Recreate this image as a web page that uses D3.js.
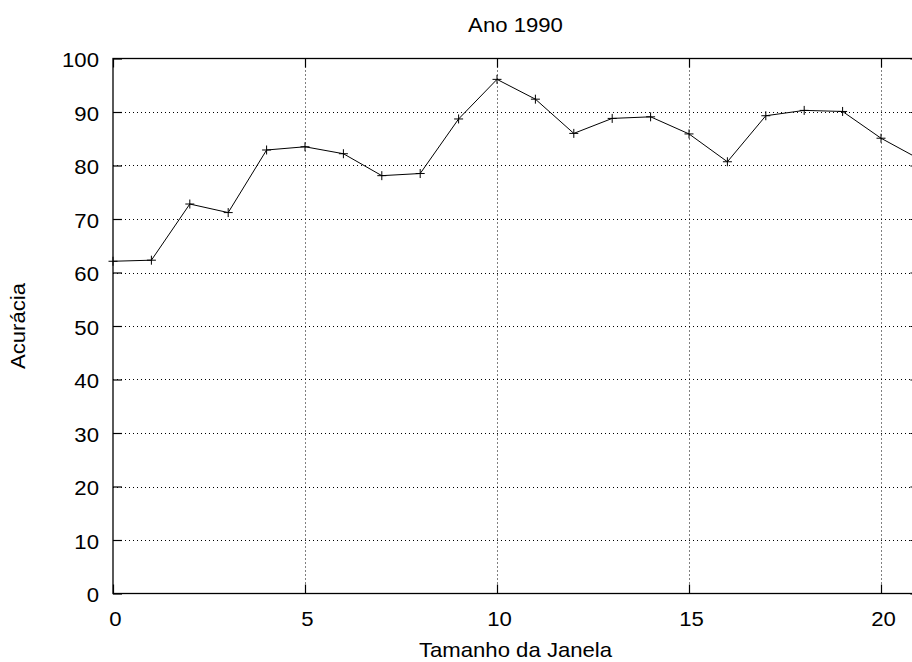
<!DOCTYPE html>
<html>
<head>
<meta charset="utf-8">
<script src="https://cdn.jsdelivr.net/npm/d3@7"></script>
<style>
  html, body { margin: 0; padding: 0; background: #fff; overflow: hidden; }
  svg { display: block; }
  text { font-family: "Liberation Sans", Arial, sans-serif; fill: #000; }
</style>
</head>
<body>
<script>
const title = "Ano 1990";
const xLabel = "Tamanho da Janela";
const yLabel = "Acurácia";
const windowSizes = [0, 1, 2, 3, 4, 5, 6, 7, 8, 9, 10, 11, 12, 13, 14, 15, 16, 17, 18, 19, 20, 21];
const accuracy = [62.1, 62.3, 72.8, 71.2, 82.9, 83.5, 82.2, 78.1, 78.5, 88.7, 96.1, 92.4, 86.0, 88.8, 89.1, 85.9, 80.7, 89.3, 90.3, 90.1, 85.1, 81.2];
const xTicks = [0, 5, 10, 15, 20];
const yTicks = [0, 10, 20, 30, 40, 50, 60, 70, 80, 90, 100];

const W = 912, H = 662;
const mLeft = 113, mRight = 919.4, mTop = 58.5, mBottom = 593.5;
const fs = 20.5, sx = 1.08;

const svg = d3.select("body").append("svg").attr("width", W).attr("height", H);

const x = d3.scaleLinear().domain([0, 21]).range([mLeft, mRight]);
const y = d3.scaleLinear().domain([0, 100]).range([mBottom, mTop]);

// grid
const grid = svg.append("g").attr("stroke", "#000").attr("stroke-width", 1).attr("stroke-dasharray", "1,3");
grid.selectAll("line.gy").data(yTicks.filter(d => d > 0 && d < 100)).join("line")
  .attr("x1", mLeft).attr("x2", mRight)
  .attr("y1", d => Math.round(y(d)) + 0.5).attr("y2", d => Math.round(y(d)) + 0.5);
grid.selectAll("line.gx").data(xTicks.filter(d => d > 0)).join("line")
  .attr("y1", mTop).attr("y2", mBottom)
  .attr("x1", d => Math.round(x(d)) + 0.5).attr("x2", d => Math.round(x(d)) + 0.5);

// axes via d3 axis generators (inner ticks, mirrored)
function styleAxis(g) {
  g.select(".domain").remove();
  g.selectAll(".tick line").attr("stroke", "#000").attr("stroke-width", 1.2);
  g.selectAll(".tick text").remove();
}
svg.append("g").attr("transform", `translate(${mLeft},0)`)
  .call(d3.axisRight(y).tickValues(yTicks).tickSize(9).tickFormat(""))
  .call(styleAxis);
svg.append("g").attr("transform", `translate(0,${mBottom})`)
  .call(d3.axisTop(x).tickValues(xTicks).tickSize(9).tickFormat(""))
  .call(styleAxis);
svg.append("g").attr("transform", `translate(0,${mTop})`)
  .call(d3.axisBottom(x).tickValues(xTicks).tickSize(9).tickFormat(""))
  .call(styleAxis);
svg.append("g").attr("transform", `translate(${mRight},0)`)
  .call(d3.axisLeft(y).tickValues(yTicks).tickSize(9).tickFormat(""))
  .call(styleAxis);

// frame
svg.append("rect").attr("x", mLeft).attr("y", mTop)
  .attr("width", mRight - mLeft).attr("height", mBottom - mTop)
  .attr("fill", "none").attr("stroke", "#000").attr("stroke-width", 1.3);

// tick labels
svg.selectAll("text.yt").data(yTicks).join("text")
  .attr("text-anchor", "end")
  .attr("font-size", fs)
  .attr("transform", d => `translate(99,${y(d) + 8.5}) scale(${sx},1)`)
  .text(d => d);
svg.selectAll("text.xt").data(xTicks).join("text")
  .attr("text-anchor", "middle")
  .attr("font-size", fs)
  .attr("transform", d => `translate(${x(d) + 2.5},625.5) scale(${sx},1)`)
  .text(d => d);

// labels
svg.append("text").attr("text-anchor", "middle").attr("font-size", fs)
  .attr("transform", `translate(515.5,31.5) scale(${sx},1)`).text(title);
svg.append("text").attr("text-anchor", "middle").attr("font-size", fs)
  .attr("transform", `translate(515.5,657.3) scale(${sx},1)`).text(xLabel);
svg.append("text").attr("text-anchor", "middle").attr("font-size", fs)
  .attr("transform", `translate(25,326) rotate(-90) scale(${sx},1)`).text(yLabel);

// data line
const pts = windowSizes.map((w, i) => [w, accuracy[i]]);
svg.append("path").datum(pts)
  .attr("fill", "none").attr("stroke", "#000").attr("stroke-width", 1)
  .attr("d", d3.line().x(d => x(d[0])).y(d => y(d[1])));

// + markers
const m = 4.5;
const mk = svg.append("g").attr("stroke", "#000").attr("stroke-width", 1);
mk.selectAll("path").data(pts).join("path")
  .attr("d", d => {
    const px = x(d[0]), py = y(d[1]);
    return `M${px - m},${py}H${px + m}M${px},${py - m}V${py + m}`;
  });
</script>
</body>
</html>
